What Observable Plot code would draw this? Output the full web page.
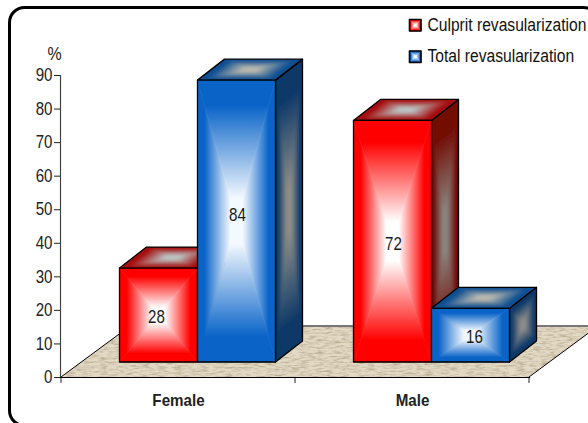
<!DOCTYPE html>
<html>
<head>
<meta charset="utf-8">
<script src="https://cdn.jsdelivr.net/npm/d3@7"></script>
<script src="https://cdn.jsdelivr.net/npm/@observablehq/plot@0.6"></script>
<style>
  html, body { margin: 0; padding: 0; background: #fff; }
  svg { display: block; }
</style>
</head>
<body>
<div id="chart"></div>
<script>
// Revascularization rates by sex, in percent
const sexes = ["Female", "Male"];
const seriesNames = ["Culprit revasularization", "Total revasularization"];
const culprit = [28, 72];
const total = [84, 16];
const yTicks = [0, 10, 20, 30, 40, 50, 60, 70, 80, 90];

const rows = sexes.flatMap((sex, i) => [
  {sex, series: 0, value: culprit[i]},
  {sex, series: 1, value: total[i]}
]);

const font = "'Liberation Sans', Arial, sans-serif";

// Edge and centre colours of each cuboid face, per series
const palette = [
  {front: ["#ff0000", "#ffffff"], top: ["#a50f10", "#bcc8c8"], side: ["#720800", "#8a8682"]},
  {front: ["#0a64c8", "#f4f9ff"], top: ["#0f4f92", "#bdbcae"], side: ["#0b3768", "#8e8e88"]}
];

// Perspective offsets of the 3D scene, in pixels
const depth = {dx: 27, dy: -21};
const lift = {dx: 20, dy: -15};
const floorDepth = {dx: 69, dy: -51};

// Hand placement of the value labels relative to their bar's centre
const labelNudge = {28: [-2, 2], 84: [1, -6], 72: [1, 3], 16: [4, 2]};

const NS = "http://www.w3.org/2000/svg";
const el = (name, attrs = {}, parent) => {
  const node = document.createElementNS(NS, name);
  for (const [k, v] of Object.entries(attrs)) node.setAttribute(k, v);
  if (parent) parent.appendChild(node);
  return node;
};
const pts = (list) => list.map((p) => p.join(",")).join(" ");

let faceCount = 0;

// Paints a quadrilateral as a rectangular "path" gradient: four triangles fade
// from the edge colour to the centre colour, each at right angles to its edge.
// A soft face is blurred and clipped to its outline, which gives a rounded glow.
function boxFace(g, defs, corners, [edge, centre], {soft = false, stroke = "#000", strokeWidth = 1.3} = {}) {
  const faceId = faceCount++;
  let target = g;
  if (soft) {
    const clip = el("clipPath", {id: `clip-${faceId}`}, defs);
    el("polygon", {points: pts(corners)}, clip);
    const clipped = el("g", {"clip-path": `url(#clip-${faceId})`}, g);
    el("polygon", {points: pts(corners), fill: edge}, clipped);
    target = el("g", {filter: "url(#face-soften)"}, clipped);
  }
  const c = [d3.mean(corners, (p) => p[0]), d3.mean(corners, (p) => p[1])];
  corners.forEach((a, i) => {
    const b = corners[(i + 1) % corners.length];
    const ex = b[0] - a[0], ey = b[1] - a[1];
    const t = ((c[0] - a[0]) * ex + (c[1] - a[1]) * ey) / (ex * ex + ey * ey);
    const id = `face-${faceId}-${i}`;
    const grad = el("linearGradient", {
      id, gradientUnits: "userSpaceOnUse",
      x1: a[0] + t * ex, y1: a[1] + t * ey, x2: c[0], y2: c[1]
    }, defs);
    el("stop", {offset: 0.18, "stop-color": edge}, grad);
    el("stop", {offset: 0.84, "stop-color": centre}, grad);
    el("polygon", {
      points: pts([a, b, c]), fill: `url(#${id})`,
      stroke: `url(#${id})`, "stroke-width": 0.6
    }, target);
  });
  el("polygon", {points: pts(corners), fill: "none", stroke, "stroke-width": strokeWidth, "stroke-linejoin": "round"}, g);
}

// Draws the floor, the bars as cuboids and their value labels
function scene(index, scales, values, dimensions) {
  const g = el("g");
  const defs = el("defs", {}, g);
  const x0 = scales.x(sexes[0]);
  const step = scales.x(sexes[1]) - x0;
  const base = scales.y(0);

  const soften = el("filter", {id: "face-soften", x: "-20%", y: "-20%", width: "140%", height: "140%"}, defs);
  el("feGaussianBlur", {stdDeviation: 1.6}, soften);

  // Textured floor under the bars
  const filter = el("filter", {id: "floor-grain", x: 0, y: 0, width: 1, height: 1}, defs);
  el("feTurbulence", {type: "fractalNoise", baseFrequency: "0.12 0.55", numOctaves: 3, seed: 4, result: "n"}, filter);
  el("feColorMatrix", {in: "n", type: "matrix", values: "0 0 0 0 0.5  0 0 0 0 0.42  0 0 0 0 0.28  2.4 0 0 0 -0.95", result: "s"}, filter);
  el("feComposite", {in: "s", in2: "SourceGraphic", operator: "atop", result: "t"}, filter);
  const x1 = x0 + step * sexes.length;
  const floor = [[x0, base], [x1, base], [x1 + floorDepth.dx, base + floorDepth.dy], [x0 + floorDepth.dx, base + floorDepth.dy]];
  el("polygon", {points: pts(floor), fill: "#e3dac6", filter: "url(#floor-grain)"}, g);
  el("line", {x1: floor[2][0], y1: floor[2][1], x2: floor[3][0], y2: floor[3][1], stroke: "#777", "stroke-width": 2}, g);
  el("line", {x1: floor[3][0], y1: floor[3][1], x2: floor[0][0], y2: floor[0][1], stroke: "#000", "stroke-width": 1}, g);
  el("line", {x1: floor[1][0], y1: floor[1][1], x2: floor[2][0], y2: floor[2][1], stroke: "#000", "stroke-width": 1}, g);

  // Bars, back to front in reading order
  const w = step / 3;
  for (const d of rows) {
    const left = scales.x(d.sex) + step / 4 + d.series * w;
    const right = left + w;
    const bottom = base + lift.dy;
    const top = scales.y(d.value) + lift.dy;
    const colours = palette[d.series];
    const shift = (p) => [p[0] + depth.dx, p[1] + depth.dy];
    const fl = [left, bottom], fr = [right, bottom], tl = [left, top], tr = [right, top];
    boxFace(g, defs, [fr, tr, shift(tr), shift(fr)], colours.side, {soft: true});
    boxFace(g, defs, [tl, tr, shift(tr), shift(tl)], colours.top, {soft: true});
    boxFace(g, defs, [tl, tr, fr, fl], colours.front);
    const [nx, ny] = labelNudge[d.value];
    const label = el("text", {
      transform: `translate(${(left + right) / 2 + nx},${(top + bottom) / 2 + ny})`,
      "text-anchor": "middle", "dominant-baseline": "central",
      "font-family": font, "font-size": 18, fill: "#1a1a1a"
    }, g);
    label.textContent = d.value;
  }

  // Legend swatches
  seriesNames.forEach((name, i) => {
    const sx = 409.5, sy = [19.5, 51][i], s = 11.5;
    boxFace(g, defs, [[sx, sy], [sx + s, sy], [sx + s, sy + s], [sx, sy + s]], palette[i].front, {strokeWidth: 1.6});
  });

  // Outer rounded panel, bleeding off the right and bottom edges
  el("rect", {x: 9.5, y: 7.5, width: 589, height: 418, rx: 15, fill: "none", stroke: "#000", "stroke-width": 3}, g);

  // Tick marks on the band edges of the x axis
  for (let i = 0; i <= sexes.length; i++) {
    const px = x0 + i * step;
    el("line", {x1: px, x2: px, y1: base, y2: base + 6, stroke: "#222", "stroke-width": 1}, g);
  }
  return g;
}

const chart = Plot.plot({
  width: 588,
  height: 423,
  marginLeft: 60,
  marginRight: 59,
  marginTop: 75,
  marginBottom: 46,
  style: {fontFamily: font, background: "transparent", overflow: "hidden"},
  x: {type: "band", domain: sexes, padding: 0, label: null},
  y: {domain: [0, 90], label: null},
  marks: [
    scene,
    Plot.frame({anchor: "left", stroke: "#444", strokeWidth: 1.2}),
    Plot.frame({anchor: "bottom", stroke: "#000", strokeWidth: 1.2}),
    Plot.axisY({ticks: yTicks, tickSize: 6, tickPadding: 2, fontSize: 18, stroke: "#222", fill: "#222", label: null}),
    Plot.axisX({tickSize: 0, tickPadding: 17, fontSize: 16.5, fontWeight: "bold", fill: "#222", label: null}),
    Plot.text(["%"], {frameAnchor: "top-left", textAnchor: "middle", lineAnchor: "middle", dx: -6, dy: -22, fontSize: 19, fill: "#222"}),
    Plot.text([seriesNames[0]], {frameAnchor: "top-left", textAnchor: "start", lineAnchor: "middle", dx: 367, dy: -50, fontSize: 18.5, fill: "#111"}),
    Plot.text([seriesNames[1]], {frameAnchor: "top-left", textAnchor: "start", lineAnchor: "middle", dx: 367, dy: -19, fontSize: 18.5, fill: "#111"})
  ]
});
document.getElementById("chart").appendChild(chart);

// Narrow the sans-serif glyphs to a condensed width around each text's anchor, keeping them live text
chart.querySelectorAll("text").forEach((t) => {
  const k = sexes.includes(t.textContent) ? 0.92 : seriesNames.includes(t.textContent) ? 0.845 : 0.84;
  const box = t.getBBox();
  const anchor = getComputedStyle(t).textAnchor;
  const ax = anchor === "middle" ? box.x + box.width / 2 : anchor === "end" ? box.x + box.width : box.x;
  t.setAttribute("transform", `${t.getAttribute("transform") || ""} translate(${ax},0) scale(${k},1) translate(${-ax},0)`);
});
</script>
</body>
</html>
